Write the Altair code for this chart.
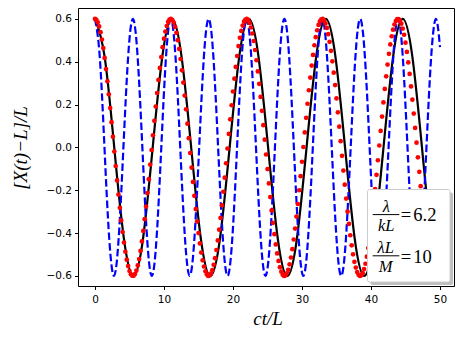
import altair as alt
import pandas as pd

# ---------------- data ----------------
black_t = [0.0, 1.394, 2.788, 4.181, 5.575, 6.969, 8.363, 9.756,
           11.15, 12.544, 13.938, 15.331, 16.725, 18.119, 19.513, 20.906,
           22.3, 23.694, 25.088, 26.481, 27.875, 29.269, 30.663, 32.056,
           33.45, 34.844, 36.238, 37.631, 39.025, 40.419, 41.813, 43.206,
           44.6, 45.994, 47.388, 48.781, 50.0]
black_v = [0.6, 0.424, 0.0, -0.424, -0.6, -0.424, 0.0, 0.424,
           0.6, 0.424, 0.0, -0.424, -0.6, -0.424, 0.0, 0.424,
           0.6, 0.424, 0.0, -0.424, -0.6, -0.424, 0.0, 0.424,
           0.6, 0.424, 0.0, -0.424, -0.6, -0.424, 0.0, 0.424,
           0.6, 0.424, 0.0, -0.424, -0.597]

blue_t = [0.0, 0.686, 1.373, 2.059, 2.745, 3.431, 4.118, 4.804,
          5.49, 6.176, 6.863, 7.549, 8.235, 8.921, 9.608, 10.294,
          10.98, 11.666, 12.353, 13.039, 13.725, 14.411, 15.098, 15.784,
          16.47, 17.156, 17.843, 18.529, 19.215, 19.901, 20.588, 21.274,
          21.96, 22.646, 23.333, 24.019, 24.705, 25.391, 26.078, 26.764,
          27.45, 28.136, 28.823, 29.509, 30.195, 30.881, 31.568, 32.254,
          32.94, 33.626, 34.313, 34.999, 35.685, 36.371, 37.058, 37.744,
          38.43, 39.116, 39.803, 40.489, 41.175, 41.861, 42.548, 43.234,
          43.92, 44.606, 45.293, 45.979, 46.665, 47.351, 48.038, 48.724,
          49.41, 50.0]
blue_v = [0.6, 0.424, 0.0, -0.424, -0.6, -0.424, 0.0, 0.424,
          0.6, 0.424, 0.0, -0.424, -0.6, -0.424, 0.0, 0.424,
          0.6, 0.424, 0.0, -0.424, -0.6, -0.424, 0.0, 0.424,
          0.6, 0.424, 0.0, -0.424, -0.6, -0.424, 0.0, 0.424,
          0.6, 0.424, 0.0, -0.424, -0.6, -0.424, 0.0, 0.424,
          0.6, 0.424, 0.0, -0.424, -0.6, -0.424, 0.0, 0.424,
          0.6, 0.424, 0.0, -0.424, -0.6, -0.424, 0.0, 0.424,
          0.6, 0.424, 0.0, -0.424, -0.6, -0.424, 0.0, 0.424,
          0.6, 0.424, 0.0, -0.424, -0.6, -0.424, 0.0, 0.424,
          0.6, 0.468]

red_t = [0.0, 0.2, 0.4, 0.6, 0.8, 1.0, 1.2, 1.4, 1.6, 1.8,
         2.0, 2.2, 2.4, 2.6, 2.8, 3.0, 3.2, 3.4, 3.6, 3.8,
         4.0, 4.2, 4.4, 4.6, 4.8, 5.0, 5.2, 5.4, 5.6, 5.8,
         6.0, 6.2, 6.4, 6.6, 6.8, 7.0, 7.2, 7.4, 7.6, 7.8,
         8.0, 8.2, 8.4, 8.6, 8.8, 9.0, 9.2, 9.4, 9.6, 9.8,
         10.0, 10.2, 10.4, 10.6, 10.8, 11.0, 11.2, 11.4, 11.6, 11.8,
         12.0, 12.2, 12.4, 12.6, 12.8, 13.0, 13.2, 13.4, 13.6, 13.8,
         14.0, 14.2, 14.4, 14.6, 14.8, 15.0, 15.2, 15.4, 15.6, 15.8,
         16.0, 16.2, 16.4, 16.6, 16.8, 17.0, 17.2, 17.4, 17.6, 17.8,
         18.0, 18.2, 18.4, 18.6, 18.8, 19.0, 19.2, 19.4, 19.6, 19.8,
         20.0, 20.2, 20.4, 20.6, 20.8, 21.0, 21.2, 21.4, 21.6, 21.8,
         22.0, 22.2, 22.4, 22.6, 22.8, 23.0, 23.2, 23.4, 23.6, 23.8,
         24.0, 24.2, 24.4, 24.6, 24.8, 25.0, 25.2, 25.4, 25.6, 25.8,
         26.0, 26.2, 26.4, 26.6, 26.8, 27.0, 27.2, 27.4, 27.6, 27.8,
         28.0, 28.2, 28.4, 28.6, 28.8, 29.0, 29.2, 29.4, 29.6, 29.8,
         30.0, 30.2, 30.4, 30.6, 30.8, 31.0, 31.2, 31.4, 31.6, 31.8,
         32.0, 32.2, 32.4, 32.6, 32.8, 33.0, 33.2, 33.4, 33.6, 33.8,
         34.0, 34.2, 34.4, 34.6, 34.8, 35.0, 35.2, 35.4, 35.6, 35.8,
         36.0, 36.2, 36.4, 36.6, 36.8, 37.0, 37.2, 37.4, 37.6, 37.8,
         38.0, 38.2, 38.4, 38.6, 38.8, 39.0, 39.2, 39.4, 39.6, 39.8,
         40.0, 40.2, 40.4, 40.6, 40.8, 41.0, 41.2, 41.4, 41.6, 41.8,
         42.0, 42.2, 42.4, 42.6, 42.8, 43.0, 43.2, 43.4, 43.6, 43.8,
         44.0, 44.2, 44.4, 44.6, 44.8, 45.0, 45.2, 45.4, 45.6, 45.8,
         46.0, 46.2, 46.4, 46.6, 46.8, 47.0, 47.2, 47.4, 47.6, 47.8,
         48.0, 48.2, 48.4, 48.6, 48.8, 49.0, 49.2, 49.4, 49.6, 49.8,
         50.0]
red_v = [0.600, 0.596, 0.584, 0.565, 0.538, 0.504, 0.464, 0.418, 0.366, 0.309,
         0.248, 0.184, 0.118, 0.050, -0.019, -0.087, -0.154, -0.220, -0.282, -0.341,
         -0.395, -0.444, -0.487, -0.524, -0.554, -0.577, -0.592, -0.599, -0.599, -0.591,
         -0.575, -0.551, -0.521, -0.483, -0.439, -0.390, -0.335, -0.276, -0.213, -0.148,
         -0.080, -0.012, 0.057, 0.124, 0.191, 0.254, 0.315, 0.371, 0.422, 0.468,
         0.508, 0.541, 0.567, 0.586, 0.597, 0.600, 0.595, 0.583, 0.563, 0.535,
         0.501, 0.460, 0.413, 0.360, 0.303, 0.242, 0.178, 0.111, 0.043, -0.026,
         -0.094, -0.161, -0.226, -0.288, -0.346, -0.400, -0.448, -0.491, -0.527, -0.556,
         -0.578, -0.593, -0.600, -0.598, -0.589, -0.573, -0.548, -0.517, -0.479, -0.434,
         -0.384, -0.329, -0.270, -0.207, -0.141, -0.074, -0.005, 0.063, 0.131, 0.197,
         0.261, 0.321, 0.376, 0.427, 0.473, 0.512, 0.544, 0.569, 0.587, 0.597,
         0.600, 0.594, 0.581, 0.560, 0.532, 0.497, 0.455, 0.407, 0.355, 0.297,
         0.236, 0.171, 0.104, 0.036, -0.033, -0.101, -0.168, -0.232, -0.294, -0.352,
         -0.405, -0.453, -0.495, -0.530, -0.559, -0.580, -0.594, -0.600, -0.598, -0.588,
         -0.571, -0.546, -0.514, -0.475, -0.430, -0.379, -0.323, -0.264, -0.200, -0.134,
         -0.067, 0.002, 0.070, 0.138, 0.204, 0.267, 0.326, 0.382, 0.432, 0.477,
         0.515, 0.547, 0.572, 0.589, 0.598, 0.600, 0.593, 0.579, 0.558, 0.529,
         0.493, 0.451, 0.402, 0.349, 0.291, 0.229, 0.164, 0.097, 0.029, -0.039,
         -0.108, -0.174, -0.239, -0.300, -0.357, -0.410, -0.457, -0.499, -0.534, -0.561,
         -0.582, -0.595, -0.600, -0.597, -0.587, -0.568, -0.543, -0.510, -0.470, -0.425,
         -0.374, -0.318, -0.257, -0.194, -0.128, -0.060, 0.009, 0.077, 0.144, 0.210,
         0.273, 0.332, 0.387, 0.437, 0.481, 0.519, 0.550, 0.574, 0.590, 0.599,
         0.599, 0.592, 0.578, 0.555, 0.526, 0.489, 0.446, 0.397, 0.343, 0.285,
         0.223, 0.158, 0.091, 0.022, -0.046, -0.114, -0.181, -0.245, -0.306, -0.363,
         -0.415, -0.462, -0.503, -0.537, -0.564, -0.584, -0.596, -0.600, -0.596, -0.585,
         -0.566]

x_ticks = [0, 10, 20, 30, 40, 50]
y_ticks = [-0.6, -0.4, -0.2, 0.0, 0.2, 0.4, 0.6]
x_domain = [-2.464, 52.03]
y_domain = [-0.647, 0.651]

x_title = "ct/L"
y_title = "[X(t)\u2212L]/L"

# ---------------- chart ----------------
W, H = 376, 278
SERIF = "Liberation Serif"

xscale = alt.Scale(domain=x_domain, nice=False, zero=False)
yscale = alt.Scale(domain=y_domain, nice=False, zero=False)

xaxis = alt.Axis(values=x_ticks, format="d", title=x_title, grid=False, domain=False,
                 labelFont="DejaVu Sans", labelFontSize=10.5, labelColor="black",
                 labelPadding=5, tickColor="black", tickSize=3.5, tickWidth=1,
                 titleFont=SERIF, titleFontStyle="italic", titleFontWeight="normal",
                 titleFontSize=19, titleColor="black", titleX=189.5, titleY=38,
                 titleAlign="center", titleBaseline="alphabetic", titleAngle=0)
yaxis = alt.Axis(values=y_ticks, format=".1f", title=y_title, grid=False, domain=False,
                 labelFont="DejaVu Sans", labelFontSize=10.5, labelColor="black",
                 labelPadding=3, tickColor="black", tickSize=3.5, tickWidth=1,
                 titleFont=SERIF, titleFontStyle="italic", titleFontWeight="normal",
                 titleFontSize=19, titleColor="black", titleX=-58, titleY=139.5,
                 titleAlign="center", titleBaseline="middle", titleAngle=270)

df_black = pd.DataFrame({"t": black_t, "v": black_v})
df_blue = pd.DataFrame({"t": blue_t, "v": blue_v})
df_red = pd.DataFrame({"t": red_t, "v": red_v})
one = pd.DataFrame({"a": [0]})

enc = dict(x=alt.X("t:Q", scale=xscale, axis=xaxis),
           y=alt.Y("v:Q", scale=yscale, axis=yaxis))

black = alt.Chart(df_black).mark_line(color="black", strokeWidth=2.2,
                                      interpolate="natural").encode(**enc)
blue = alt.Chart(df_blue).mark_line(color="#0000ff", strokeWidth=2.2, strokeDash=[7.5, 3.2],
                                    interpolate="natural").encode(**enc)
red = alt.Chart(df_red).mark_circle(color="#ff0000", size=22, opacity=1).encode(**enc)

# annotation box (pixel layout inside the plot area)
shadow = alt.Chart(one).mark_rect(color="#808080", opacity=0.5, cornerRadius=2).encode(
    x=alt.value(292.5), x2=alt.value(375), y=alt.value(184.5), y2=alt.value(277))
box = alt.Chart(one).mark_rect(fill="white", stroke="#cccccc", strokeWidth=1, cornerRadius=2).encode(
    x=alt.value(289.5), x2=alt.value(372), y=alt.value(181.5), y2=alt.value(274))


def txt(s, x, y, italic=True, align="center", size=16.5, line_height=19):
    return alt.Chart(one).mark_text(
        text=s, font=SERIF, fontStyle="italic" if italic else "normal", fontSize=size,
        align=align, baseline="alphabetic", lineHeight=line_height,
        color="black").encode(x=alt.value(x), y=alt.value(y))


def bar(x1, x2, y):
    return alt.Chart(one).mark_rule(color="black", strokeWidth=1).encode(
        x=alt.value(x1), x2=alt.value(x2), y=alt.value(y))


legend = [
    shadow, box,
    txt(["\u03bb", "kL"], 308.3, 203.8), bar(294.7, 321.3, 206.6),
    txt("=", 322.7, 212.8, italic=False, align="left", size=18.5),
    txt("6.2", 335.3, 212.8, italic=False, align="left", size=18.5),
    txt(["\u03bbL", "M"], 307.7, 245), bar(294.7, 321.3, 247.8),
    txt("=", 322.7, 254.5, italic=False, align="left", size=18.5),
    txt("10", 335.3, 254.5, italic=False, align="left", size=18.5),
]

chart = alt.layer(black, blue, red, *legend).properties(
    width=W, height=H,
    autosize=alt.AutoSizeParams(type="none"),
    padding={"left": 70, "top": 0, "right": 1, "bottom": 44},
    background="white",
).configure_view(stroke="black", strokeWidth=1)

chart.save("out.html", embed_options={"renderer": "svg", "actions": False})
